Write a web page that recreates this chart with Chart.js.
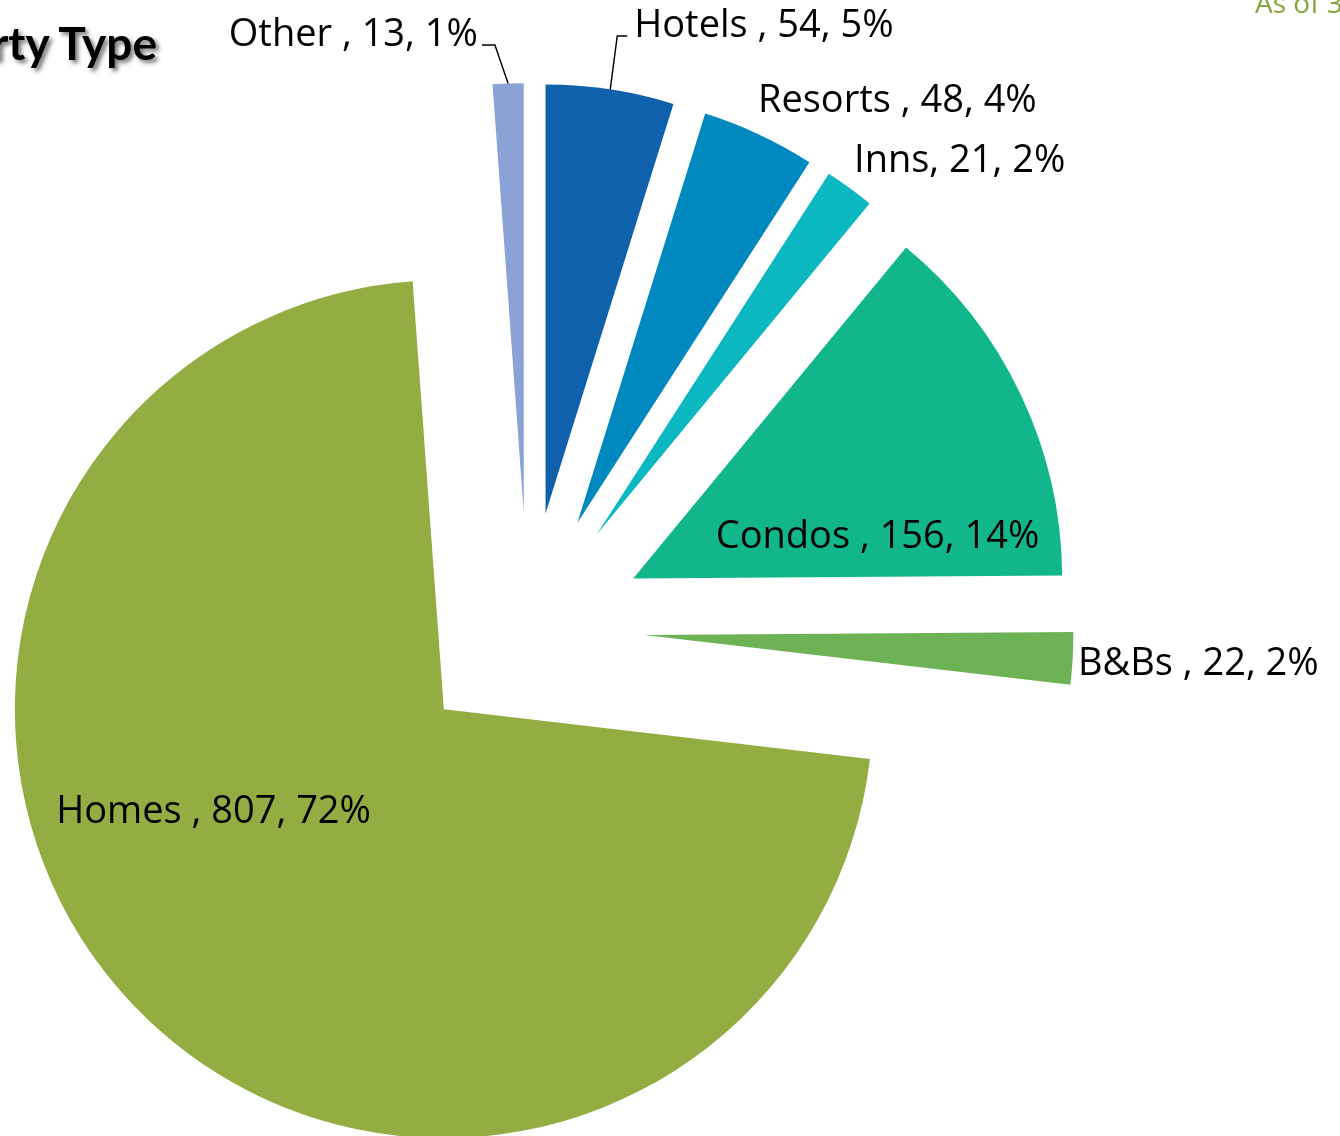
<!DOCTYPE html>
<html>
<head>
<meta charset="utf-8">
<script src="https://cdn.jsdelivr.net/npm/chart.js@4.4.1/dist/chart.umd.min.js"></script>
<style>
  html, body { margin: 0; padding: 0; background: #ffffff; overflow: hidden; }
  #wrap { position: relative; width: 1340px; height: 1136px; overflow: hidden; background: #ffffff; }
  #c { position: absolute; left: 0; top: 0; }
  #title { position: absolute; right: 1183px; top: 14.6px; font: bold 46px Lato, sans-serif; line-height: 1.2;
           white-space: nowrap; color: #000; text-shadow: 3px 3px 4px rgba(0,0,0,0.55); }
  #asof { position: absolute; left: 1255px; top: -17.4px; font: 28px "Open Sans", sans-serif; line-height: 1.362;
          white-space: nowrap; color: #86a43e; }
</style>
</head>
<body>
<div id="wrap">
  <canvas id="c" width="1340" height="1136"></canvas>
  <div id="title">Property Type</div>
  <div id="asof">As of 3/31/2014</div>
</div>
<script>
// ---- data (clockwise from 12 o'clock) ----
const categories = ['Hotels ', 'Resorts ', 'Inns', 'Condos ', 'B&Bs ', 'Homes ', 'Other '];
const listingCounts = [54, 48, 21, 156, 22, 807, 13];
const sliceColors = ['#0f61ab', '#0089bf', '#0bb8c2', '#11b68a', '#6db356', '#93ad42', '#8aa2d6'];

// ---- label placement (style): nudges relative to each slice's exploded outer-mid point ----
const labelLayout = [
  { align: 'left',   dx: 24,    dy: -52.3, leaderGap: 7, leaderLen: 10 },
  { align: 'left',   dx: -1,    dy: -22.4 },
  { align: 'left',   dx: 4.4,   dy: -15.9 },
  { align: 'center', dx: -143,  dy: 154 },
  { align: 'left',   dx: 5.3,   dy: 16.6 },
  { align: 'center', dx: 79.6,  dy: -182.8 },
  { align: 'right',  dx: -30.2, dy: -37.5, leaderGap: 4, leaderLen: 13 }
];

// draw each arc element pushed out along its own bisector (Excel-style exploded pie)
const explodePlugin = {
  id: 'explode',
  beforeDatasetDraw(chart, args, opts) {
    const ctx = chart.ctx;
    const d = opts.distance || 0;
    args.meta.data.forEach(arc => {
      const mid = (arc.startAngle + arc.endAngle) / 2;
      ctx.save();
      ctx.translate(Math.cos(mid) * d, Math.sin(mid) * d);
      arc.draw(ctx);
      ctx.restore();
    });
    return false;
  }
};

const labelPlugin = {
  id: 'sliceLabels',
  afterDatasetsDraw(chart, args, opts) {
    const ctx = chart.ctx;
    const meta = chart.getDatasetMeta(0);
    const total = listingCounts.reduce((a, b) => a + b, 0);
    const dist = chart.options.plugins.explode.distance;
    ctx.save();
    ctx.font = opts.font;
    ctx.fillStyle = '#000';
    ctx.strokeStyle = '#000';
    ctx.lineWidth = 1.4;
    ctx.textBaseline = 'alphabetic';
    meta.data.forEach((arc, i) => {
      const mid = (arc.startAngle + arc.endAngle) / 2;
      const r = arc.outerRadius + dist;
      const ox = arc.x + Math.cos(mid) * r;
      const oy = arc.y + Math.sin(mid) * r;
      const L = labelLayout[i];
      const tx = ox + L.dx, ty = oy + L.dy;
      const pct = Math.round(listingCounts[i] / total * 100);
      const text = categories[i] + ', ' + listingCounts[i] + ', ' + pct + '%';
      ctx.textAlign = L.align;
      ctx.fillText(text, tx, ty);
      if (L.leaderLen) {
        const s = L.align === 'right' ? 1 : -1;
        const ly = ty - 1;
        ctx.beginPath();
        ctx.moveTo(tx + s * L.leaderGap, ly);
        ctx.lineTo(tx + s * (L.leaderGap + L.leaderLen), ly);
        ctx.lineTo(ox, oy);
        ctx.stroke();
      }
    });
    ctx.restore();
  }
};

new Chart(document.getElementById('c'), {
  type: 'pie',
  data: {
    labels: categories,
    datasets: [{
      data: listingCounts,
      backgroundColor: sliceColors,
      borderWidth: 0
    }]
  },
  options: {
    responsive: false,
    animation: false,
    events: [],
    radius: 429,
    layout: { padding: { left: 0, right: 284, top: 121.2, bottom: 0 } },
    plugins: {
      legend: { display: false },
      tooltip: { enabled: false },
      explode: { distance: 116.5 },
      sliceLabels: { font: '38px "Open Sans"' }
    }
  },
  plugins: [explodePlugin, labelPlugin]
});
</script>
</body>
</html>
